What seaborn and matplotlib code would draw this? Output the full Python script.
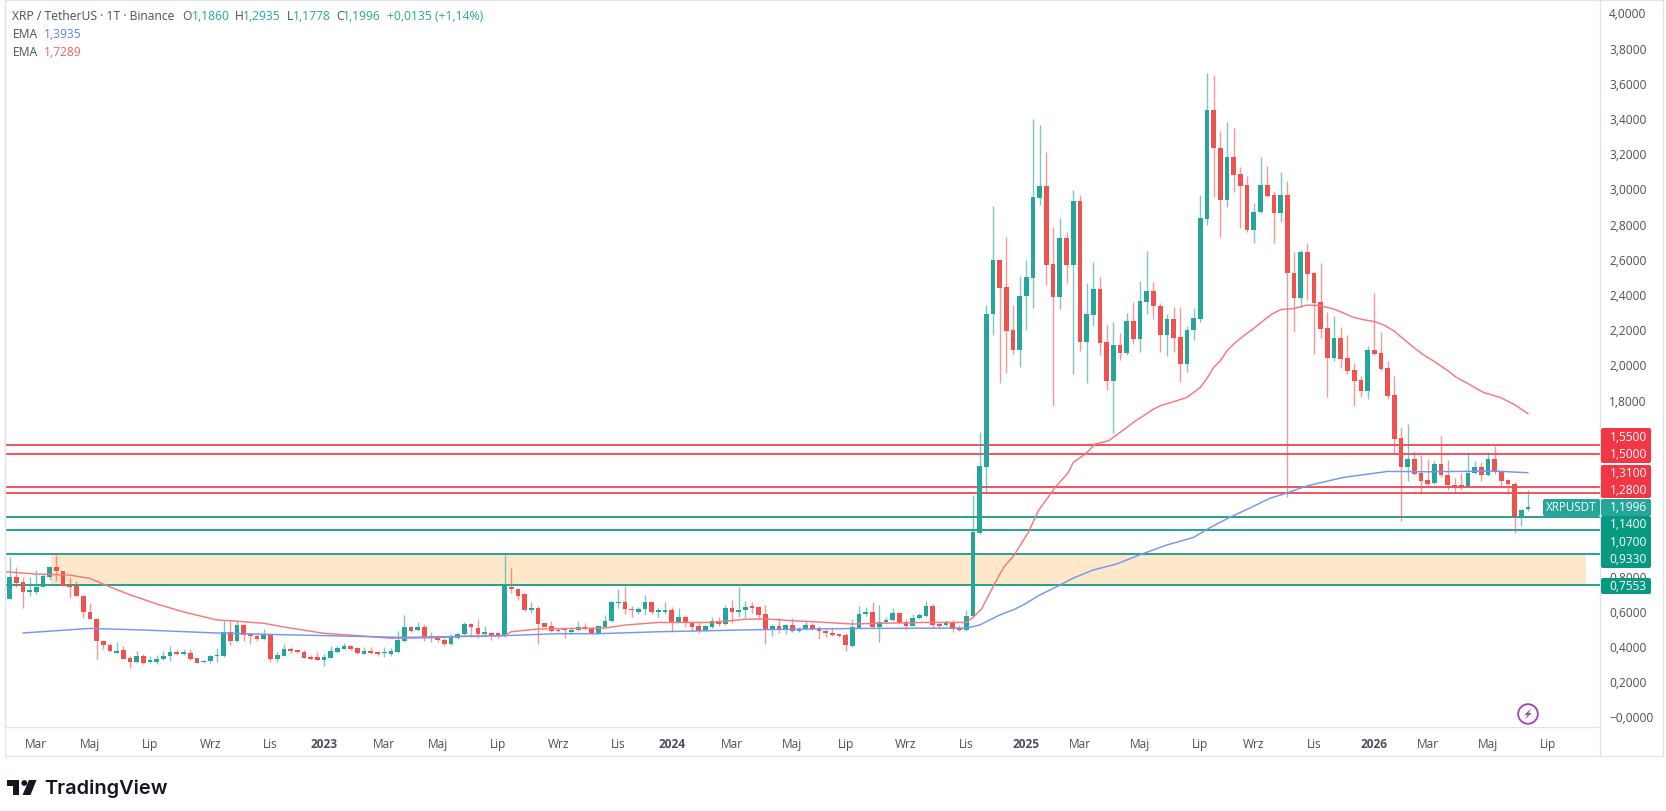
import numpy as np
import pandas as pd
import matplotlib
matplotlib.use("Agg")
import matplotlib.pyplot as plt
from matplotlib.patches import Circle, FancyBboxPatch, Polygon
import seaborn as sns

# Weekly XRP/USDT candles
opens = [
    .676,.803,.771,.718,.714,.746,.803,.856,.837,.752,
    .748,.695,.604,.562,.439,.417,.372,.388,.339,.316,
    .354,.320,.320,.335,.350,.373,.367,.369,.339,.316,
    .324,.352,.350,.490,.439,.528,.477,.464,.449,.471,
    .335,.354,.390,.384,.377,.345,.345,.330,.341,.373,
    .394,.411,.396,.364,.381,.373,.367,.366,.373,.439,
    .515,.498,.515,.454,.466,.441,.419,.454,.475,.532,
    .513,.479,.483,.481,.464,.746,.733,.704,.617,.623,
    .538,.521,.502,.504,.490,.498,.517,.513,.481,.519,
    .551,.655,.657,.621,.604,.619,.657,.606,.606,.612,
    .545,.572,.543,.521,.496,.515,.551,.534,.625,.604,
    .614,.632,.629,.589,.498,.521,.504,.528,.494,.506,
    .526,.509,.496,.485,.475,.473,.411,.513,.593,.600,
    .519,.543,.555,.595,.540,.523,.566,.581,.634,.532,
    .526,.543,.509,.500,.578,1.051,1.426,2.293,2.604,2.447,
    2.202,2.089,2.397,2.501,2.954,3.020,2.579,2.392,2.729,2.575,
    2.937,2.134,2.291,2.437,2.134,1.916,2.119,2.074,2.253,2.151,
    2.365,2.424,2.343,2.178,2.265,2.165,2.011,2.204,2.267,2.835,
    3.454,3.240,2.945,3.189,3.089,3.026,2.772,2.873,3.026,2.969,
    2.867,2.969,2.530,2.386,2.646,2.526,2.363,2.214,2.045,2.157,
    2.045,1.975,1.918,1.858,2.090,2.072,1.986,1.837,1.589,1.426,
    1.471,1.392,1.350,1.333,1.445,1.381,1.324,1.324,1.320,1.392,
    1.428,1.383,1.472,1.396,1.352,1.328,1.150,1.1860,
]
highs = [
    .913,.856,.799,.799,.843,.818,.862,.926,.837,.799,
    .780,.699,.653,.566,.443,.426,.430,.411,.354,.382,
    .364,.350,.358,.382,.407,.392,.392,.392,.339,.331,
    .360,.396,.557,.553,.553,.534,.483,.477,.506,.471,
    .373,.419,.405,.388,.388,.356,.373,.362,.407,.407,
    .428,.415,.405,.401,.405,.383,.401,.400,.496,.585,
    .521,.543,.534,.487,.471,.453,.477,.485,.544,.540,
    .562,.521,.487,.487,.928,.850,.740,.704,.661,.638,
    .540,.549,.510,.506,.519,.549,.540,.519,.525,.585,
    .661,.733,.752,.634,.631,.699,.661,.632,.657,.631,
    .623,.583,.543,.543,.528,.572,.572,.644,.668,.742,
    .667,.657,.638,.642,.534,.566,.534,.566,.515,.553,
    .540,.525,.506,.515,.477,.481,.562,.634,.629,.657,
    .642,.572,.623,.597,.562,.593,.595,.663,.649,.547,
    .559,.555,.528,.615,1.267,1.626,2.346,2.911,2.607,2.731,
    2.346,2.509,2.604,3.403,3.369,3.214,2.787,2.839,2.763,3.000,
    2.971,2.471,2.589,2.503,2.233,2.248,2.185,2.301,2.365,2.481,
    2.655,2.479,2.356,2.295,2.337,2.337,2.225,2.327,2.973,3.663,
    3.653,3.333,3.384,3.350,3.128,3.081,2.926,3.185,3.138,2.992,
    3.100,3.053,2.646,2.661,2.697,2.532,2.583,2.305,2.286,2.219,
    2.176,2.015,1.945,2.115,2.414,2.191,2.030,1.945,1.655,1.670,
    1.515,1.494,1.471,1.462,1.604,1.466,1.365,1.392,1.509,1.462,
    1.456,1.509,1.547,1.400,1.358,1.339,1.187,1.2935,
]
lows = [
    .676,.742,.623,.695,.704,.742,.786,.780,.752,.680,
    .691,.566,.562,.335,.392,.373,.368,.335,.284,.312,
    .307,.310,.307,.331,.326,.360,.358,.331,.312,.312,
    .312,.320,.345,.415,.434,.439,.420,.439,.443,.316,
    .320,.350,.367,.367,.339,.330,.330,.297,.339,.369,
    .390,.388,.364,.362,.364,.354,.348,.354,.369,.434,
    .487,.494,.439,.430,.430,.407,.415,.449,.471,.458,
    .456,.458,.445,.453,.462,.710,.672,.610,.597,.419,
    .515,.487,.486,.455,.477,.492,.502,.473,.477,.515,
    .547,.625,.591,.572,.591,.585,.593,.576,.591,.496,
    .543,.515,.492,.481,.494,.513,.525,.530,.540,.572,
    .566,.597,.562,.419,.468,.483,.477,.487,.487,.502,
    .502,.449,.462,.464,.462,.383,.405,.509,.578,.513,
    .430,.540,.553,.534,.502,.521,.562,.572,.509,.515,
    .521,.487,.492,.496,.570,1.048,1.286,2.176,1.901,1.958,
    2.071,1.996,2.204,2.329,2.914,2.460,1.770,2.323,2.469,1.954,
    2.087,1.901,2.225,2.062,1.863,1.620,2.036,2.062,2.125,2.077,
    2.295,2.267,2.077,2.058,2.081,1.911,1.964,2.147,2.252,2.803,
    2.962,2.731,2.903,2.990,2.784,2.763,2.700,2.867,2.958,2.700,
    2.816,1.257,2.195,2.333,2.377,2.068,2.157,1.822,2.030,1.986,
    1.954,1.770,1.822,1.812,2.062,1.979,1.812,1.500,1.121,1.344,
    1.380,1.272,1.324,1.329,1.367,1.297,1.282,1.297,1.316,1.386,
    1.348,1.377,1.386,1.305,1.273,1.051,1.089,1.1778,
]
closes = [
    .803,.767,.718,.723,.746,.805,.856,.837,.752,.748,
    .691,.604,.562,.439,.415,.379,.379,.335,.320,.354,
    .312,.326,.335,.354,.377,.367,.371,.335,.314,.326,
    .350,.356,.490,.439,.528,.473,.464,.449,.471,.335,
    .360,.392,.381,.373,.341,.339,.331,.345,.381,.396,
    .411,.392,.367,.381,.369,.362,.375,.379,.443,.515,
    .494,.515,.454,.468,.443,.419,.458,.477,.532,.515,
    .479,.485,.473,.464,.752,.733,.695,.615,.623,.534,
    .519,.496,.492,.500,.502,.519,.509,.481,.521,.553,
    .657,.659,.619,.612,.621,.657,.604,.610,.612,.545,
    .574,.543,.519,.496,.521,.553,.532,.625,.602,.615,
    .631,.629,.585,.500,.521,.504,.528,.494,.504,.526,
    .508,.496,.481,.472,.470,.415,.517,.593,.602,.517,
    .545,.557,.595,.540,.525,.566,.583,.634,.528,.528,
    .543,.506,.500,.581,1.055,1.430,2.295,2.604,2.443,2.198,
    2.089,2.399,2.503,2.958,3.020,2.573,2.392,2.727,2.575,2.937,
    2.138,2.295,2.437,2.130,1.916,2.119,2.074,2.253,2.153,2.367,
    2.424,2.341,2.178,2.265,2.161,2.011,2.206,2.271,2.839,3.454,
    3.238,2.945,3.189,3.087,3.024,2.770,2.873,3.026,2.964,2.867,
    2.969,2.528,2.386,2.646,2.522,2.360,2.210,2.047,2.157,2.040,
    1.973,1.916,1.858,2.090,2.066,1.983,1.831,1.585,1.426,1.471,
    1.386,1.348,1.329,1.445,1.381,1.324,1.320,1.320,1.392,1.428,
    1.383,1.472,1.396,1.348,1.328,1.150,1.184,1.1996,
]

# Moving averages, sampled by candle number
ema_red_weeks = [-1, 4, 9, 12, 15, 18, 22, 26, 31, 33, 38, 41, 47, 52, 57, 63, 68, 74,
                 75, 79, 89, 92, 97, 105, 110, 113, 117, 122, 126, 130, 137, 143, 144, 145.3,
                 147.1, 148.6, 150.1, 152.3, 153.8, 156.3, 158.3, 159, 160.8, 162.3, 164.3,
                 166.7, 168, 169.5, 171, 172, 174.5, 176, 177, 178, 179, 180, 181, 182, 183,
                 184.5, 186, 187.4, 188.7, 190, 192, 194, 196, 198, 199.4, 200.9, 202.4,
                 203.9, 205.4, 206.9, 208.4, 209.9, 211.4, 212.8, 214.8, 216.3, 218.3,
                 220.3, 222.8, 225, 227]
ema_red_values = [.832, .818, .812, .793, .745, .70, .648, .603, .557, .553, .538, .517, .481, .468, .453, .456, .464, .468,
                  .49, .506, .511, .528, .543, .543, .561, .563, .553, .543, .534, .538, .543, .543, .572, .619,
                  .752, .856, .922, 1.055, 1.178, 1.310, 1.396, 1.452, 1.500, 1.557, 1.575,
                  1.642, 1.68, 1.717, 1.755, 1.774, 1.803, 1.822, 1.850, 1.878, 1.930, 1.992, 2.030, 2.087, 2.125,
                  2.172, 2.214, 2.257, 2.295, 2.320, 2.327, 2.346, 2.342, 2.323, 2.301, 2.276, 2.263,
                  2.253, 2.234, 2.200, 2.153, 2.106, 2.062, 2.030, 1.979, 1.935, 1.894,
                  1.850, 1.822, 1.78, 1.7289]
ema_blue_weeks = [2, 7, 12, 20, 31, 41, 52, 59, 68, 74, 82, 88, 97, 112, 127, 143, 145, 148,
                  150.3, 151.8, 153.8, 157, 159, 162, 165.5, 169, 173, 177, 179.5, 182.4,
                  185.4, 188.4, 190.9, 192.9, 194.4, 199.4, 206, 212, 222, 227]
ema_blue_values = [.483, .496, .509, .500, .483, .473, .464, .458, .464, .468, .479, .479, .490, .502, .509, .511, .528, .585,
                   .619, .648, .695, .755, .795, .841, .875, .928, .983, 1.026, 1.083, 1.140,
                   1.193, 1.248, 1.278, 1.305, 1.323, 1.367, 1.401, 1.399, 1.403, 1.3935]

# Horizontal price levels and the supply zone between two of them
red_levels = [1.55, 1.50, 1.31, 1.28]
green_levels = [1.14, 1.07, 0.933, 0.7553]
zone_low, zone_high = 0.7553, 0.933
zone_dates = ["2022-03-22", "2026-08-15"]

last_close = closes[-1]

# Time axis: label sits on the first weekly candle of each period
tick_dates = ["2022-03-07", "2022-05-02", "2022-07-04", "2022-09-05", "2022-11-07", "2023-01-02",
              "2023-03-06", "2023-05-01", "2023-07-03", "2023-09-04", "2023-11-06", "2024-01-01",
              "2024-03-04", "2024-05-06", "2024-07-01", "2024-09-02", "2024-11-04", "2025-01-06",
              "2025-03-03", "2025-05-05", "2025-07-07", "2025-09-01", "2025-11-03", "2026-01-05",
              "2026-03-02", "2026-05-04", "2026-07-06"]
tick_names = ["Mar", "Maj", "Lip", "Wrz", "Lis", "2023", "Mar", "Maj", "Lip", "Wrz", "Lis", "2024",
              "Mar", "Maj", "Lip", "Wrz", "Lis", "2025", "Mar", "Maj", "Lip", "Wrz", "Lis", "2026",
              "Mar", "Maj", "Lip"]
price_ticks = [0.0, 0.2, 0.4, 0.6, 0.8, 1.0, 1.2, 1.4, 1.6, 1.8, 2.0, 2.2, 2.4, 2.6, 2.8, 3.0, 3.2, 3.4, 3.6, 3.8, 4.0]

header_title = "XRP / TetherUS · 1T · Binance"
FONT = "Open Sans"
UP, DOWN = "#26a69a", "#ef5350"
LEVEL_RED, LEVEL_GREEN = "#f23645", "#1f9e88"
TEXT = "#4b4f5c"


def fmt(v):
    return f"{v:.4f}".replace(".", ",")


sns.set_theme(style="white")
plt.rcParams["font.family"] = [FONT, "DejaVu Sans"]

W, H = 1666, 812
fig = plt.figure(figsize=(W / 100, H / 100), dpi=100, facecolor="white")
ax = fig.add_axes([5 / W, (H - 728) / H, 1595 / W, 728 / H])

first_day = pd.Timestamp("2022-02-07")
candles = pd.DataFrame({"open": opens, "high": highs, "low": lows, "close": closes})
candles["date"] = pd.date_range(first_day, periods=len(candles), freq="7D")
rising = candles["close"] >= candles["open"]


def week_date(weeks):
    return first_day + pd.to_timedelta(np.asarray(weeks) * 7, unit="D")


# Zone and level lines sit behind the candles
ax.fill_between(pd.to_datetime(zone_dates), zone_low, zone_high, color="#ffe8c9", lw=0, zorder=1)
for level in red_levels:
    ax.axhline(level, color=LEVEL_RED, lw=1.35, alpha=.9, zorder=2)
for level in green_levels:
    ax.axhline(level, color=LEVEL_GREEN, lw=1.35, zorder=2)

for mask, colour in ((rising, UP), (~rising, DOWN)):
    part = candles[mask]
    ax.vlines(part["date"], part["low"], part["high"], color=colour, lw=1.0, alpha=.6, zorder=3)
    ax.bar(part["date"], part["close"] - part["open"], bottom=part["open"], width=4.9,
           color=colour, lw=0, zorder=4)
    # very small bodies still show as a short dash
    ax.bar(part["date"], 0.009, bottom=part[["open", "close"]].mean(axis=1) - 0.0045, width=4.9,
           color=colour, lw=0, zorder=4)

sns.lineplot(x=week_date(ema_red_weeks), y=ema_red_values, ax=ax, color="#f7787e", lw=1.05, zorder=5,
             estimator=None, sort=False)
sns.lineplot(x=week_date(ema_blue_weeks), y=ema_blue_values, ax=ax, color="#7396f8", lw=1.05, zorder=5,
             estimator=None, sort=False)

ax.set_xlim(first_day - pd.Timedelta(days=4.8), first_day + pd.Timedelta(days=7 * 237.75))
ax.set_ylim(-9 / 176, 719 / 176)
ax.set_xlabel("")
ax.set_ylabel("")

ax.set_xticks(pd.to_datetime(tick_dates))
ax.set_xticklabels(tick_names, fontsize=8.6, color=TEXT)
for label, name in zip(ax.get_xticklabels(), tick_names):
    if name.isdigit():
        label.set_fontweight("bold")
ax.tick_params(axis="x", length=0, pad=7.5)

ax.yaxis.tick_right()
ax.set_yticks(price_ticks)
ax.set_yticklabels(["\u2212" + fmt(v) if v == 0 else fmt(v) for v in price_ticks],
                   fontsize=8.6, color=TEXT, va="center")
ax.tick_params(axis="y", length=0, pad=6.5)

for spine in ax.spines.values():
    spine.set_color("#e0e3eb")
    spine.set_linewidth(0.9)

# Page furniture is drawn in pixel units on a transparent overlay
ov = fig.add_axes([0, 0, 1, 1], facecolor="none")
ov.set_xlim(0, W)
ov.set_ylim(H, 0)
ov.axis("off")

ov.plot([5, 5, 1663, 1663, 5], [1, 757, 757, 1, 1], color="#e0e3eb", lw=0.9)
ov.plot([1600, 1600], [728, 757], color="#e0e3eb", lw=0.9)

# Legend header
hx, hy, hsize = 12.5, 17, 8.7
ov.text(hx, hy, header_title, fontsize=hsize, color=TEXT, va="center", ha="left")
ohlc = [("O", opens[-1], 182.7, 191.7), ("H", highs[-1], 235, 243.3),
        ("L", lows[-1], 286.5, 292.7), ("C", closes[-1], 336, 343)]
for key, value, key_x, value_x in ohlc:
    ov.text(key_x, hy, key, fontsize=hsize, color=TEXT, va="center", ha="left")
    ov.text(value_x, hy, fmt(value), fontsize=hsize, color=UP, va="center", ha="left")
ov.text(387, hy, "+0,0135 (+1,14%)", fontsize=hsize, color=UP, va="center", ha="left")
for y, value, colour in ((35, ema_blue_values[-1], "#5b82f7"), (52, ema_red_values[-1], "#f4606a")):
    ov.text(hx, y, "EMA", fontsize=hsize, color=TEXT, va="center", ha="left")
    ov.text(43.5, y, fmt(value), fontsize=hsize, color=colour, va="center", ha="left")


def pill(x0, y0, x1, y1, colour):
    ov.add_patch(FancyBboxPatch((x0 + 1.5, y0 + 1.5), x1 - x0 - 3, y1 - y0 - 3,
                                boxstyle="round,pad=1.5,rounding_size=2", fc=colour, ec="none"))


pill(1601, 429, 1651, 464, LEVEL_RED)
pill(1601, 466, 1651, 499, LEVEL_RED)
pill(1601, 517, 1651, 569, "#089981")
pill(1601, 579, 1651, 595, "#089981")
pill(1543, 500, 1600, 517, UP)
pill(1601, 500, 1651, 517, UP)

label_rows = [(437.7, red_levels[0]), (455, red_levels[1]), (473.3, red_levels[2]), (490.7, red_levels[3]),
              (507.5, last_close), (524.7, green_levels[0]), (542.3, green_levels[1]),
              (559.3, green_levels[2]), (586.5, green_levels[3])]
for y, value in label_rows:
    ov.text(1609.5, y, fmt(value), fontsize=8.6, color="white", va="center", ha="left")
ov.text(1571.5, 507.5, "XRPUSDT", fontsize=8.4, color="white", va="center", ha="center")

# Lightning badge near the last candle
ov.add_patch(Circle((1528, 715), 9.8, fc="white", ec="#a63cc1", lw=1.3))
ov.add_patch(Polygon([[1531.5, 709], [1524.5, 716], [1527.6, 716], [1524.5, 721], [1531.5, 714], [1528.4, 714]],
                     closed=True, fc="#a63cc1", ec="none"))

# TradingView wordmark
ink = "#131722"
ov.add_patch(Polygon([[7, 781], [19.5, 781], [19.5, 796], [13.5, 796], [13.5, 787], [7, 787]], closed=True, fc=ink, ec="none"))
ov.add_patch(Circle((24.3, 784), 2.9, fc=ink, ec="none"))
ov.add_patch(Polygon([[29, 781], [36.5, 781], [30.5, 796], [22.5, 796]], closed=True, fc=ink, ec="none"))
ov.text(44, 788.5, "TradingView", fontsize=14.4, color=ink, va="center", ha="left",
        family="Inter", fontweight="semibold")

fig.savefig("out.png", dpi=100)
